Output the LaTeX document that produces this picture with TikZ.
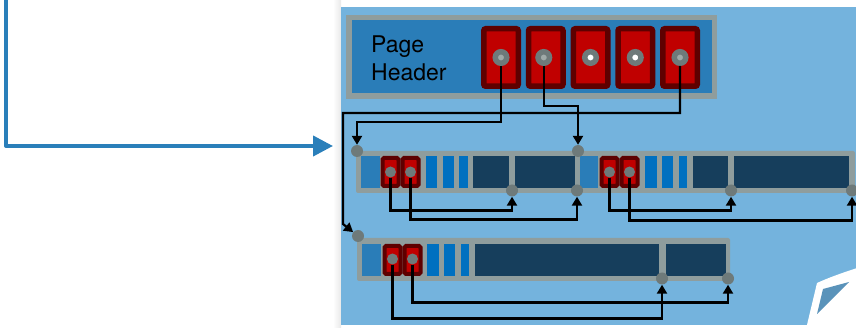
\documentclass[tikz,border=0pt]{standalone}
\usepackage{fontspec}
\setmainfont{TeX Gyre Heros}
\usepackage{xcolor}
\usepackage{tikz}
\usetikzlibrary{arrows.meta,positioning}

\definecolor{pageblue}{RGB}{116,179,221}
\definecolor{hdrblue}{RGB}{42,125,184}
\definecolor{rimgray}{RGB}{143,157,157}
\definecolor{slotdark}{RGB}{94,0,0}
\definecolor{slotred}{RGB}{192,0,0}
\definecolor{ptrgray}{RGB}{110,122,122}
\definecolor{ptrcore}{RGB}{160,170,168}
\definecolor{barblue}{RGB}{0,112,192}
\definecolor{cellnavy}{RGB}{22,62,92}
\definecolor{feedblue}{RGB}{42,127,186}
\definecolor{curlblue}{RGB}{90,147,186}

\begin{document}
\begin{tikzpicture}[x=1pt,y=-1pt,
    node distance=44.75pt,on grid,>={Triangle[length=9pt,width=10pt]},
    hdr/.style={rectangle,draw=rimgray,line width=5.5pt,fill=hdrblue,minimum width=365.5pt,minimum height=78.5pt,inner sep=0},
    slot/.style={rectangle,rounded corners=2pt,draw=slotdark,line width=5.5pt,fill=slotred,minimum width=34.5pt,minimum height=57.5pt,inner sep=0},
    ptr/.style={circle,draw=ptrgray,line width=5.5pt,fill=ptrcore,minimum size=11.5pt,inner sep=0},
    record/.style={rectangle,rounded corners=2pt,fill=rimgray,inner sep=0},
    minislot/.style={rectangle,rounded corners=1.5pt,draw=slotdark,line width=4pt,fill=slotred,minimum width=16pt,minimum height=28pt,inner sep=0},
    cellptr/.style={circle,fill=ptrgray,minimum size=11pt,inner sep=0},
    tipdot/.style={circle,fill=ptrgray,minimum size=12pt,inner sep=0},
    wire/.style={draw=black,line width=2.2pt,->},
    feed/.style={draw=feedblue,line width=4pt,line join=round,-{Triangle[length=20pt,width=20pt]}}]
  \useasboundingbox (0,0) rectangle (856,328);

  % the page
  \shade[left color=white,right color=black!9] (333,0) rectangle (341,328);
  \fill[pageblue] (341,7) rectangle (857,325);
  \fill[white] (806,329) -- (817,283) .. controls (830,277) and (845,272) .. (857,268) -- (857,329) -- cycle;
  \fill[curlblue] (823,289) -- (849,282) -- (817,314) -- cycle;

  \coordinate (feed_in) at (6,0);
  \coordinate (page_edge) at (333,146);
  \draw[feed] (feed_in) |- (page_edge);

  % page header with its slots
  \node[hdr] (page_header) at (531.5,57) {};
  \node[font=\fontsize{23}{28}\selectfont,align=left,anchor=west,inner sep=0] (header_text) at (371,58) {Page\\Header};
  \node[slot] (slot_1) at (501,57.5) {};
  \node[slot, right=of slot_1] (slot_2) {};
  \node[slot, right=of slot_2] (slot_3) {};
  \node[slot, right=of slot_3] (slot_4) {};
  \node[slot, right=of slot_4] (slot_5) {};
  \node[ptr] (ptr_1) at (slot_1) {};
  \node[ptr] (ptr_2) at ([xshift=-2pt]slot_2.center) {};
  \node[ptr,fill=white] (ptr_3) at (slot_3) {};
  \node[ptr,fill=white] (ptr_4) at (slot_4) {};
  \node[ptr] (ptr_5) at (slot_5) {};

  % records
  \node[record,minimum width=224pt,minimum height=42pt] (rec_a) at (468,172) {};
  \node[record,minimum width=280pt,minimum height=42pt] (rec_b) at (715,172) {};
  \node[record,minimum width=373pt,minimum height=43pt] (rec_c) at (543.5,259.5) {};

  \fill[hdrblue] (361,156) rectangle (380,188);
  \fill[barblue] (426,156) rectangle (437,188);
  \fill[barblue] (443,156) rectangle (454,188);
  \fill[barblue] (459,156) rectangle (468,188);
  \fill[cellnavy] (473,156) rectangle (509,188);
  \fill[cellnavy] (515,156) rectangle (575,188);

  \fill[hdrblue] (580,156) rectangle (598,188);
  \fill[barblue] (645,156) rectangle (657,188);
  \fill[barblue] (662,156) rectangle (673,188);
  \fill[barblue] (679,156) rectangle (687,188);
  \fill[cellnavy] (693,156) rectangle (728,188);
  \fill[cellnavy] (734,156) rectangle (849,188);

  \fill[hdrblue] (362,244) rectangle (381,276);
  \fill[barblue] (427,244) rectangle (439,276);
  \fill[barblue] (444,244) rectangle (455,276);
  \fill[barblue] (461,244) rectangle (469,276);
  \fill[cellnavy] (475,244) rectangle (659,276);
  \fill[cellnavy] (666,244) rectangle (726,276);

  \node[minislot] (slot_a1) at (390.5,172) {};
  \node[minislot] (slot_a2) at (410.5,172) {};
  \node[minislot] (slot_b1) at (609.5,172) {};
  \node[minislot] (slot_b2) at (629.5,172) {};
  \node[minislot] (slot_c1) at (392.5,260) {};
  \node[minislot] (slot_c2) at (412.5,260) {};
  \node[cellptr] (ptr_a1) at (slot_a1) {};
  \node[cellptr] (ptr_a2) at (slot_a2) {};
  \node[cellptr] (ptr_b1) at (slot_b1) {};
  \node[cellptr] (ptr_b2) at (slot_b2) {};
  \node[cellptr] (ptr_c1) at ([yshift=1pt]slot_c1.center) {};
  \node[cellptr] (ptr_c2) at ([yshift=1pt]slot_c2.center) {};

  \node[tipdot] (top_a) at (357,151) {};
  \node[tipdot] (top_b) at (578,151) {};
  \node[tipdot] (top_c) at (358,236) {};
  \node[tipdot] (end_a1) at (512,190.5) {};
  \node[tipdot] (end_a2) at (577,190.5) {};
  \node[tipdot] (end_b1) at (731,190.5) {};
  \node[tipdot] (end_b2) at (852,190.5) {};
  \node[tipdot] (end_c1) at (662,278.5) {};
  \node[tipdot] (end_c2) at (728,278.5) {};

  % header slots to records
  \coordinate (bend_c1) at (343,113);
  \coordinate (bend_c2) at (343,224);
  \draw[wire] (ptr_1) |- ([yshift=29pt]top_a.center) -- (top_a);
  \draw[wire] (ptr_2) |- ([yshift=45pt]top_b.center) -- (top_b);
  \draw[wire] (ptr_5) |- (bend_c1) -- (bend_c2) -- (top_c);

  % slots inside the records
  \draw[wire] (ptr_a1) |- ([yshift=-20pt]end_a1.center) -- (end_a1);
  \draw[wire] (ptr_a2) |- ([yshift=-29pt]end_a2.center) -- (end_a2);
  \draw[wire] (ptr_b1) |- ([yshift=-20pt]end_b1.center) -- (end_b1);
  \draw[wire] (ptr_b2) |- ([yshift=-30pt]end_b2.center) -- (end_b2);
  \draw[wire] (ptr_c1) |- ([yshift=-40pt]end_c1.center) -- (end_c1);
  \draw[wire] (ptr_c2) |- ([yshift=-24pt]end_c2.center) -- (end_c2);
\end{tikzpicture}
\end{document}
